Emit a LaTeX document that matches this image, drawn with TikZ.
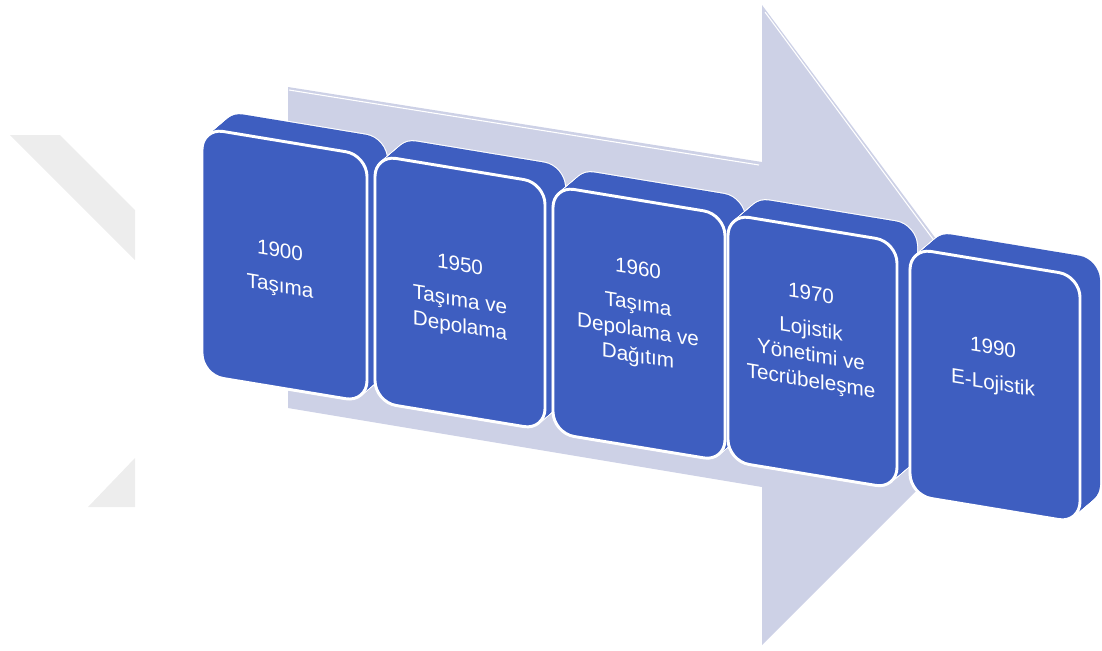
\documentclass[tikz,border=0pt]{standalone}
\usepackage{fontspec}
\setmainfont{Liberation Sans}
\definecolor{boxblue}{HTML}{3E5EC0}
\definecolor{lav}{HTML}{CDD1E6}
\definecolor{wm}{HTML}{EDEDED}
\newcommand\tlbox[4]{%
  \foreach \i in {0,...,20}{%
    \draw[white,line width=1.6pt,rounded corners=16pt,shift={(\i,-\i*0.85)}]
      (#1,#2) -- ++(#3,{0.165*#3}) -- ++(0,#4) -- ++({-#3},{-0.165*#3}) -- cycle;}
  \foreach \i in {0,...,20}{%
    \fill[boxblue,rounded corners=16pt,shift={(\i,-\i*0.85)}]
      (#1,#2) -- ++(#3,{0.165*#3}) -- ++(0,#4) -- ++({-#3},{-0.165*#3}) -- cycle;}
  \draw[fill=boxblue,draw=white,line width=2.2pt,rounded corners=16pt]
      (#1,#2) -- ++(#3,{0.165*#3}) -- ++(0,#4) -- ++({-#3},{-0.165*#3}) -- cycle;
}
\tikzset{
  txt/.style={text=white,font=\fontsize{15.5}{19.5}\selectfont,align=center,yslant=-0.165,inner sep=0pt},
}
\begin{document}
\begin{tikzpicture}[x=0.75pt,y=-0.75pt]
\useasboundingbox (0,0) rectangle (1102,650);
% watermark
\fill[wm] (10,135) -- (60,135) -- (135,210) -- (135,260) -- cycle;
\fill[wm] (135,458) -- (135,507) -- (88,507) -- cycle;
% big arrow
\fill[lav] (288,87) -- (762,162) -- (762,5) -- (1035,372) -- (762,645) -- (762,487) -- (288,408) -- cycle;
\draw[white,line width=0.8pt] (289,90) -- (759,165);
\draw[white,line width=0.8pt] (765.1,12.2) -- (1019,355.4);
% boxes
\tlbox{202}{128}{165}{247}
\tlbox{375}{155}{170}{247}
\tlbox{553}{186}{172}{247}
\tlbox{728}{214}{169}{247}
\tlbox{910}{248}{170}{247}
% texts
\node[txt] (b1) at (280,270) {1900\\[7pt]Taşıma};
\node[txt] (b2) at (460,297) {1950\\[7pt]Taşıma ve\\Depolama};
\node[txt] (b3) at (638,314) {1960\\[7pt]Taşıma\\Depolama ve\\Dağıtım};
\node[txt] (b4) at (811,339) {1970\\[7pt]Lojistik\\Yönetimi ve\\Tecrübeleşme};
\node[txt] (b5) at (993,367) {1990\\[7pt]E-Lojistik};
\end{tikzpicture}
\end{document}
